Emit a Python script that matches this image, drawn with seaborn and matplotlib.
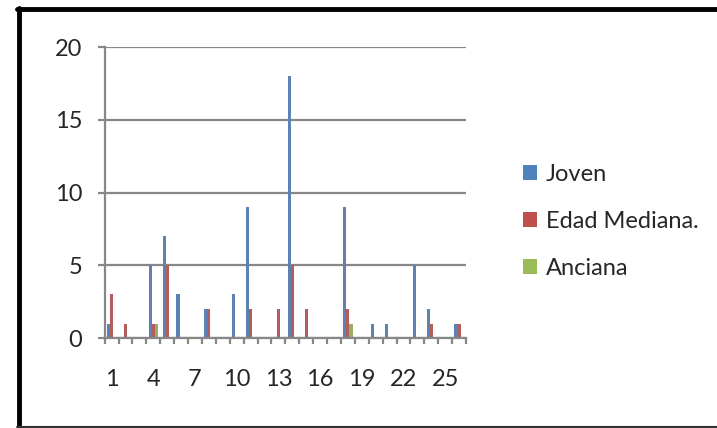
import numpy as np
import pandas as pd
import matplotlib
matplotlib.use("Agg")
import matplotlib.pyplot as plt
import seaborn as sns
from matplotlib.lines import Line2D
from matplotlib.patches import Patch

#Data
categories = [str(i) for i in range(1, 27)]
joven = [1, 0, 0, 5, 7, 3, 0, 2, 0, 3, 9, 0, 0, 18, 0, 0, 0, 9, 0, 1, 1, 0, 5, 2, 0, 1]
edad_mediana = [3, 1, 0, 1, 5, 0, 0, 2, 0, 0, 2, 0, 2, 5, 2, 0, 0, 2, 0, 0, 0, 0, 0, 1, 0, 1]
anciana = [0, 0, 0, 1, 0, 0, 0, 0, 0, 0, 0, 0, 0, 0, 0, 0, 0, 1, 0, 0, 0, 0, 0, 0, 0, 0]
series_names = ["Joven", "Edad Mediana.", "Anciana"]
colors = ["#4F81BD", "#C0504D", "#9BBB59"]
y_ticks = [0, 5, 10, 15, 20]

df = pd.DataFrame({
    "cat": categories * 3,
    "serie": [series_names[0]] * 26 + [series_names[1]] * 26 + [series_names[2]] * 26,
    "valor": joven + edad_mediana + anciana,
})

sns.set_style("white")
plt.rcParams['font.family'] = ['Lato', 'DejaVu Sans']

fig = plt.figure(figsize=(7.17, 4.28), dpi=100)
ax = fig.add_axes([0.146, 0.210, 0.504, 0.680])

sns.barplot(data=df, x="cat", y="valor", hue="serie", palette=colors,
            width=0.67, linewidth=0, ax=ax, legend=False)

grey = "#878787"
ax.set_xlim(-0.5, 25.5)
ax.set_ylim(0, 20)
ax.set_yticks(y_ticks)
ax.set_yticklabels([str(v) for v in y_ticks])
ax.set_xticks(range(0, 26, 3))
ax.set_xticklabels(categories[::3])
ax.set_xticks(np.arange(-0.5, 26, 1), minor=True)
ax.set_xlabel("")
ax.set_ylabel("")

ax.yaxis.grid(True, color=grey, linewidth=1.6)
ax.set_axisbelow(True)
for s in ["top", "right"]:
    ax.spines[s].set_visible(False)
for s in ["left", "bottom"]:
    ax.spines[s].set_color(grey)
    ax.spines[s].set_linewidth(1.6)

ax.tick_params(axis="y", which="major", direction="out", length=5, width=1.6,
               color=grey, labelsize=17, pad=11, left=True)
ax.tick_params(axis="x", which="major", length=0, labelsize=17, pad=22)
ax.tick_params(axis="x", which="minor", direction="out", length=4.5, width=1.6,
               color=grey, bottom=True)

handles = [Patch(facecolor=c, edgecolor="none") for c in colors]
fig.legend(handles, series_names, loc="center left", bbox_to_anchor=(0.70, 0.482),
           frameon=False, fontsize=17, handlelength=0.6, handleheight=0.6,
           handletextpad=0.35, labelspacing=1.1)

#Black frame around the chart
fig.add_artist(Line2D([0.027, 0.027], [0.0, 0.982], color="black", linewidth=3.5))
fig.add_artist(Line2D([0.024, 1.0], [0.978, 0.978], color="black", linewidth=3.5))
fig.add_artist(Line2D([0.024, 1.0], [0.002, 0.002], color="#333333", linewidth=1.5))

fig.savefig("out.png", dpi=100)
